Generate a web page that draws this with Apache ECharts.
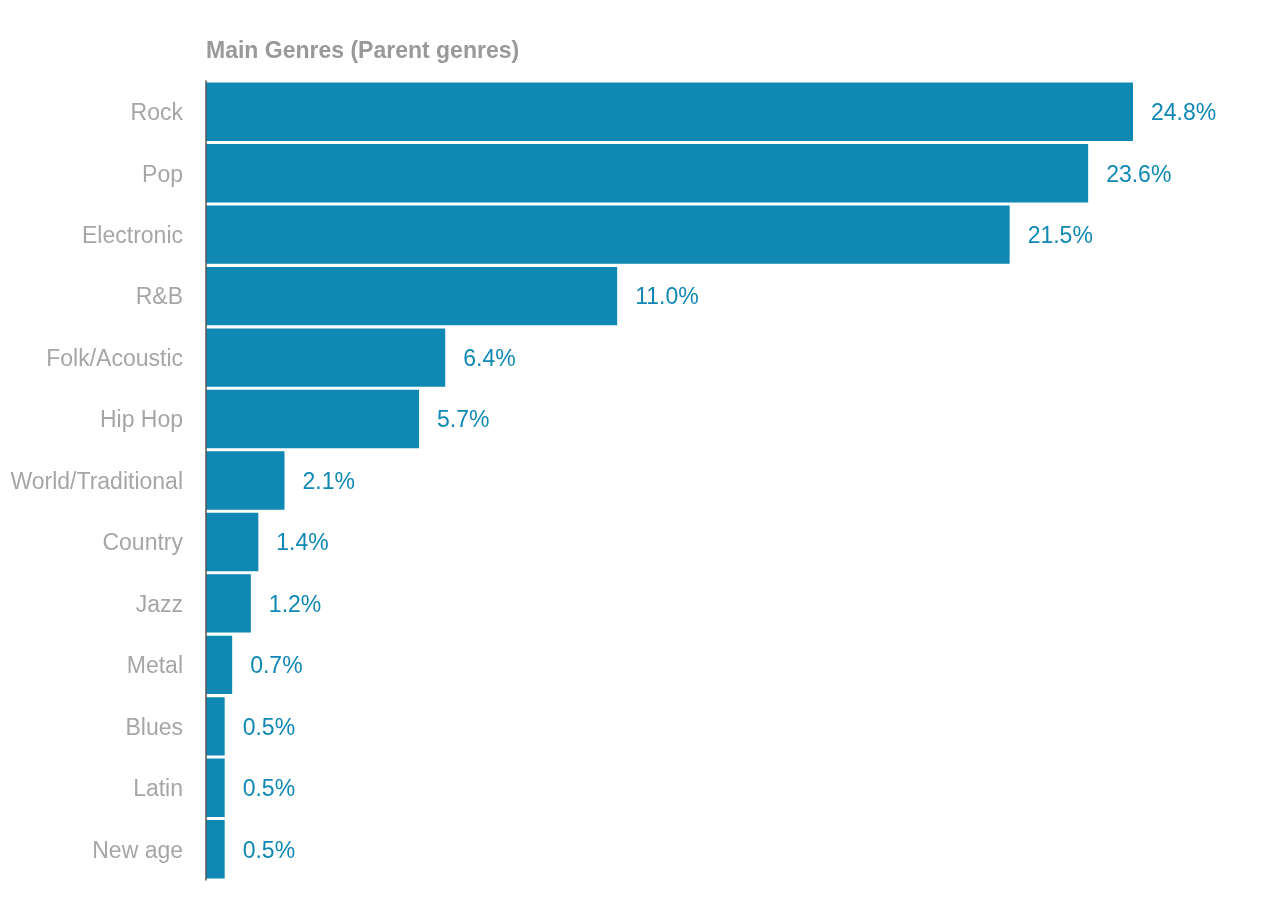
<!DOCTYPE html>
<html lang="en">
<head>
    <meta charset="UTF-8">
    <title>Main Genres</title>
    <script src="https://cdn.jsdelivr.net/npm/echarts@6.0.0/dist/echarts.min.js"></script>
    <style>
        html, body { margin: 0; padding: 0; background: #fff; }
        #chart { width: 1288px; height: 915px; }
    </style>
</head>
<body>
    <div id="chart"></div>
    <script>
        // genres, top to bottom
        const genres = ['Rock', 'Pop', 'Electronic', 'R&B', 'Folk/Acoustic', 'Hip Hop',
            'World/Traditional', 'Country', 'Jazz', 'Metal', 'Blues', 'Latin', 'New age'];
        // share in percent
        const shares = [24.8, 23.6, 21.5, 11.0, 6.4, 5.7, 2.1, 1.4, 1.2, 0.7, 0.5, 0.5, 0.5];

        const chart = echarts.init(document.getElementById('chart'));

        chart.setOption({
            animation: false,
            textStyle: { fontFamily: "'Liberation Sans', Arial, sans-serif" },
            title: {
                text: 'Main Genres (Parent genres)',
                left: 206,
                top: 40,
                padding: 0,
                textStyle: { color: '#999', fontSize: 23, fontWeight: 'bold' }
            },
            grid: { left: 206, right: 155, top: 81, bottom: 35 },
            xAxis: {
                type: 'value',
                min: 0,
                max: 24.8,
                show: false
            },
            yAxis: {
                type: 'category',
                data: genres,
                inverse: true,
                z: 5,
                axisLine: { lineStyle: { color: '#555', width: 1.5 } },
                axisTick: { show: false },
                axisLabel: {
                    margin: 23,
                    formatter: v => '{g|' + v + '}',
                    rich: {
                        g: { color: '#a6a6a6', fontSize: 23, padding: [4, 0, 0, 0] }
                    }
                }
            },
            series: [{
                type: 'bar',
                data: shares,
                barCategoryGap: '5%',
                itemStyle: { color: '#0f88b3' },
                label: {
                    show: true,
                    position: 'right',
                    distance: 18,
                    offset: [0, 2],
                    color: '#0f88b3',
                    fontSize: 23,
                    formatter: p => p.value.toFixed(1) + '%'
                }
            }]
        });
    </script>
</body>
</html>
